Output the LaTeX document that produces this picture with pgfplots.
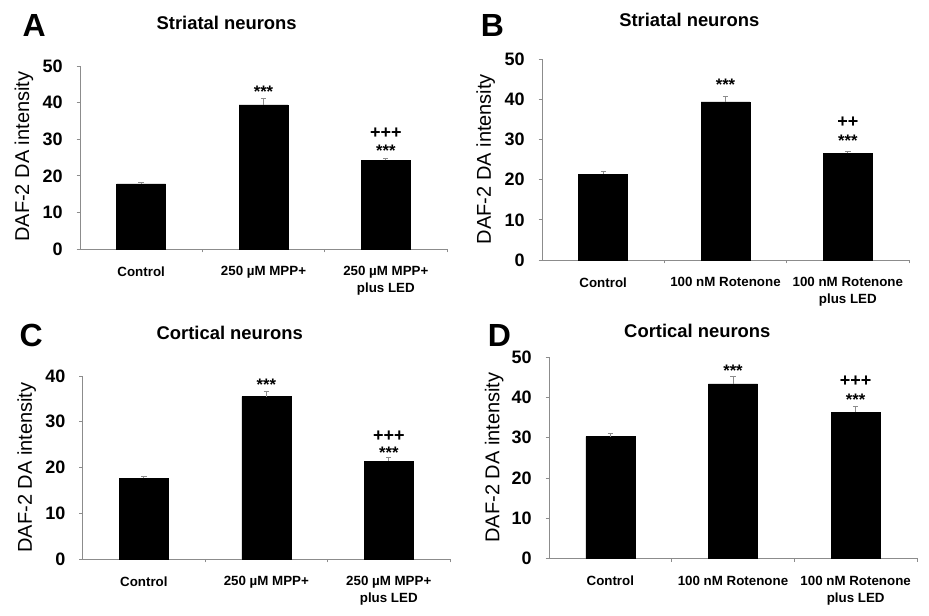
\documentclass[border=0pt]{standalone}
\usepackage{fontspec}
\setmainfont{Liberation Sans}
\usepackage{pgfplots}
\pgfplotsset{compat=1.18}
\definecolor{axgray}{gray}{0.55}
\pgfplotsset{panel/.style={
  scale only axis, anchor=south west, clip=false,
  ybar, bar width=0.4, bar shift=0pt,
  xmin=-0.5, xmax=2.5, ymin=0,
  axis x line*=bottom, axis y line*=left,
  axis line style={draw=axgray, line width=0.6pt, -},
  tick align=outside, major tick length=2.5pt,
  ytick style={draw=axgray, line width=0.6pt},
  xtick={0,1,2},
  xtick style={draw=none},
  extra x ticks={0.5,1.5,2.5}, extra x tick labels={},
  extra x tick style={xtick style={draw=axgray, line width=0.6pt}},
  /pgf/number format/assume math mode=true,
  yticklabel style={font=\bfseries\fontsize{13.5}{13.5}\selectfont, xshift=-7pt},
  xticklabel style={font=\bfseries\fontsize{10}{12.75}\selectfont, align=center, yshift=-7pt},
  error bars/y dir=plus, error bars/y explicit,
  error bars/error bar style={draw=axgray, line width=0.6pt},
  error bars/error mark options={rotate=90, mark size=2pt, draw=axgray, line width=0.6pt},
}}
\tikzset{
sigstar/.style={anchor=base, font=\bfseries\fontsize{12.5}{12.5}\selectfont, inner sep=0pt},
sigplus/.style={anchor=base, font=\bfseries\fontsize{13.5}{13.5}\selectfont, inner sep=0pt},
}
\begin{document}
\begin{tikzpicture}
\useasboundingbox (0,0) rectangle (696.75pt,-461.25pt);
% Panel A
\begin{axis}[panel, at={(60pt,-186.75pt)}, width=275.25pt, height=137.25pt,
  ymax=50, ytick={0,10,...,50},
  xticklabels={{Control},{250 µM MPP+},{250 µM MPP+\\plus LED}}]
\addplot[fill=black, draw=black] coordinates {(0,17.8) +- (0,0.3) (1,39.4) +- (0,1.8) (2,24.3) +- (0,0.5)};
\node[sigstar] at (axis cs:1,41.2) [yshift=0.5pt] {***};
\node[sigstar] at (axis cs:2,24.8) [yshift=1.5pt] {***};
\node[sigplus] at (axis cs:2,24.8) [yshift=14.5pt] {+++};
\end{axis}
% Panel B
\begin{axis}[panel, at={(406.5pt,-195pt)}, width=275.25pt, height=150.5pt,
  ymax=50, ytick={0,10,...,50},
  xticklabels={{Control},{100 nM Rotenone},{100 nM Rotenone\\plus LED}}]
\addplot[fill=black, draw=black] coordinates {(0,21.4) +- (0,0.7) (1,39.4) +- (0,1.4) (2,26.6) +- (0,0.4)};
\node[sigstar] at (axis cs:1,40.8) [yshift=4.3pt] {***};
\node[sigstar] at (axis cs:2,27.0) [yshift=4pt] {***};
\node[sigplus] at (axis cs:2,27.0) [yshift=17.8pt] {++};
\end{axis}
% Panel C
\begin{axis}[panel, at={(62pt,-419.25pt)}, width=275.5pt, height=137.25pt,
  ymax=40, ytick={0,10,...,40},
  xticklabels={{Control},{250 µM MPP+},{250 µM MPP+\\plus LED}}]
\addplot[fill=black, draw=black] coordinates {(0,17.6) +- (0,0.5) (1,35.5) +- (0,1.2) (2,21.4) +- (0,0.9)};
\node[sigstar] at (axis cs:1,36.7) [yshift=0.75pt] {***};
\node[sigstar] at (axis cs:2,22.3) [yshift=-1.5pt] {***};
\node[sigplus] at (axis cs:2,22.3) [yshift=11.8pt] {+++};
\end{axis}
% Panel D
\begin{axis}[panel, at={(411.75pt,-418.75pt)}, width=276pt, height=150.75pt,
  ymax=50, ytick={0,10,...,50},
  xticklabels={{Control},{100 nM Rotenone},{100 nM Rotenone\\plus LED}}]
\addplot[fill=black, draw=black] coordinates {(0,30.25) +- (0,0.85) (1,43.4) +- (0,1.9) (2,36.4) +- (0,1.4)};
\node[sigstar] at (axis cs:1,45.3) [yshift=0pt] {***};
\node[sigstar] at (axis cs:2,37.8) [yshift=0.75pt] {***};
\node[sigplus] at (axis cs:2,37.8) [yshift=15pt] {+++};
\end{axis}
% Panel letters
\node[font=\bfseries\fontsize{24}{24}\selectfont] at (25.6pt,-18.75pt) {A};
\node[font=\bfseries\fontsize{24}{24}\selectfont] at (369.4pt,-18.75pt) {B};
\node[font=\bfseries\fontsize{24}{24}\selectfont] at (23.4pt,-251.6pt) {C};
\node[font=\bfseries\fontsize{24}{24}\selectfont] at (374.5pt,-251.9pt) {D};
% Titles
\node[font=\bfseries\fontsize{13.8}{13.8}\selectfont] at (170pt,-17pt) {Striatal neurons};
\node[font=\bfseries\fontsize{13.8}{13.8}\selectfont] at (517pt,-15pt) {Striatal neurons};
\node[font=\bfseries\fontsize{13.8}{13.8}\selectfont] at (172.3pt,-249.5pt) {Cortical neurons};
\node[font=\bfseries\fontsize{13.8}{13.8}\selectfont] at (523pt,-248pt) {Cortical neurons};
% Y labels
\node[rotate=90, font=\fontsize{15}{15}\selectfont] at (18pt,-117.5pt) {DAF-2 DA intensity};
\node[rotate=90, font=\fontsize{15}{15}\selectfont] at (364.3pt,-119.25pt) {DAF-2 DA intensity};
\node[rotate=90, font=\fontsize{15}{15}\selectfont] at (20pt,-350.6pt) {DAF-2 DA intensity};
\node[rotate=90, font=\fontsize{15}{15}\selectfont] at (370.7pt,-343.1pt) {DAF-2 DA intensity};
\end{tikzpicture}
\end{document}
